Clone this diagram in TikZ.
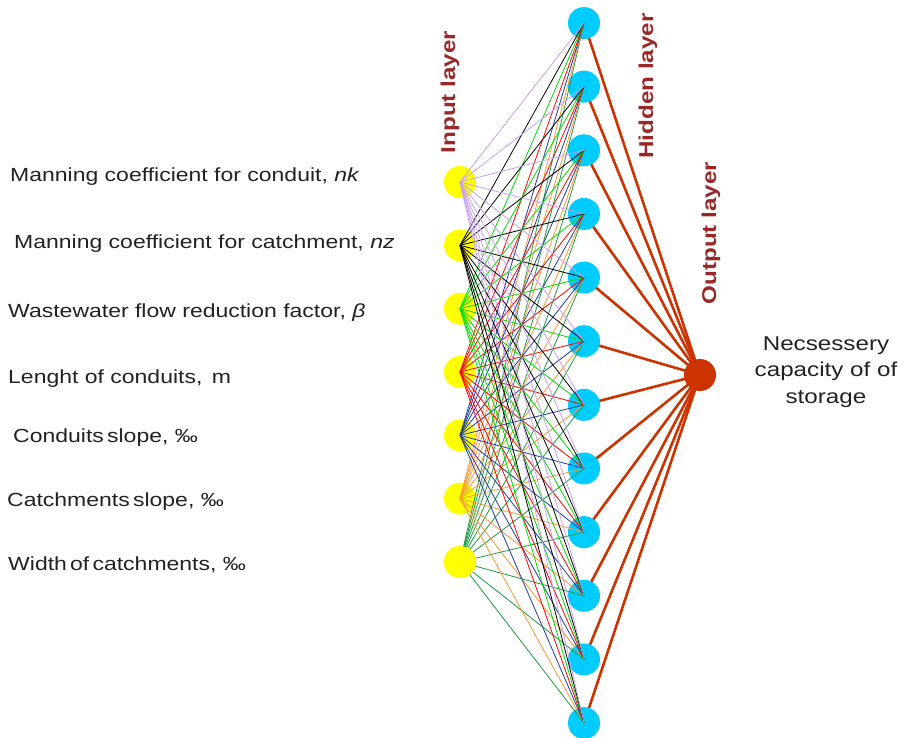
\documentclass[tikz,border=0pt]{standalone}
\usepackage{fontspec}
\setmainfont{Liberation Sans}[FakeStretch=1.21]
\definecolor{inyellow}{RGB}{255,255,0}
\definecolor{hidcyan}{RGB}{0,204,255}
\definecolor{outred}{RGB}{204,51,0}
\definecolor{labred}{RGB}{153,40,40}
\definecolor{txtgray}{RGB}{34,34,34}
\definecolor{cA}{RGB}{200,160,245}
\definecolor{cB}{RGB}{0,0,0}
\definecolor{cC}{RGB}{0,220,0}
\definecolor{cD}{RGB}{255,0,0}
\definecolor{cE}{RGB}{30,60,160}
\definecolor{cF}{RGB}{255,150,50}
\definecolor{cG}{RGB}{30,155,65}
\pgfdeclarelayer{bg}
\pgfsetlayers{bg,main}
\begin{document}
\begin{tikzpicture}[x=1pt,y=-1pt,
  inp/.style={circle,fill=inyellow,minimum size=32pt,inner sep=0pt},
  hid/.style={circle,fill=hidcyan,minimum size=32pt,inner sep=0pt},
  outn/.style={circle,fill=outred,minimum size=32pt,inner sep=0pt},
  wline/.style={line width=0.8pt},
  oline/.style={outred,line width=2.6pt},
  lab/.style={anchor=west,inner sep=0pt,text=txtgray,font=\fontsize{19}{22}\selectfont},
  layerlab/.style={rotate=90,inner sep=0pt,text=labred,font=\bfseries\fontsize{20}{22}\selectfont}]
\useasboundingbox (0,0) rectangle (903,737);
% hidden nodes
\foreach \i in {1,...,12}{
  \node[hid] (h\i) at (584,{23+63.64*(\i-1)}) {};
}
% input nodes
\foreach \i in {1,...,7}{
  \node[inp] (i\i) at (460,{182+63.33*(\i-1)}) {};
}
% output node
\node[outn] (o) at (700,375) {};
% output connections
\begin{pgfonlayer}{bg}
\foreach \j in {1,...,12}{
  \draw[oline] (o.center) -- (h\j.center);
}
\end{pgfonlayer}
% input-hidden connections
\foreach \i/\c in {7/cG,6/cF,5/cE,4/cD,3/cC,2/cB,1/cA}{
  \foreach \j in {1,...,12}{
    \draw[wline,\c] (i\i.center) -- (h\j.center);
  }
}
\node[inp] at (i7.center) {};
% labels
\node[lab] (l1) at (10,177) {Manning coefficient for conduit, \textit{nk}};
\node[lab] (l2) at (14,244) {Manning coefficient for catchment, \textit{nz}};
\node[lab] (l3) at (8,313) {Wastewater flow reduction factor, \textit{β}};
\node[lab] (l4) at (8,379) {Lenght of conduits,\hspace{0.5em}m};
\node[lab] (l5) at (13,438) {Conduits\hspace{0.17em}slope, ‰};
\node[lab] (l6) at (7,502) {Catchments\hspace{0.17em}slope, ‰};
\node[lab] (l7) at (8,565) {Width\hspace{0.17em}of\hspace{0.17em}catchments, ‰};
\node[layerlab] (tin) at (450,92) {Input layer};
\node[layerlab] (thid) at (648,86) {Hidden layer};
\node[layerlab] (tout) at (711,233) {Output layer};
\node[align=center,text=txtgray,font=\fontsize{20}{26.5}\selectfont] (tres) at (826,372) {Necsessery\\capacity of of\\storage};
\end{tikzpicture}
\end{document}
